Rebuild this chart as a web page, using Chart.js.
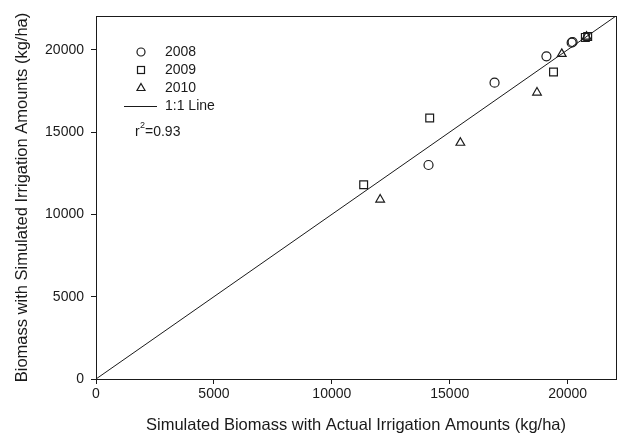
<!DOCTYPE html>
<html>
<head>
<meta charset="utf-8">
<script src="https://cdn.jsdelivr.net/npm/chart.js@4.4.1/dist/chart.umd.min.js"></script>
<style>
  html, body { margin: 0; padding: 0; background: #fff; }
  #chart { display: block; }
</style>
</head>
<body>
<canvas id="chart" width="619" height="439"></canvas>
<script>
// Datos (kg/ha)
const x2008 = [14100, 16900, 19100, 20170, 20210];
const y2008 = [13000, 18000, 19600, 20430, 20470];

const x2009 = [11350, 14150, 19400, 20750, 20850];
const y2009 = [11800, 15850, 18650, 20750, 20800];

const x2010 = [12050, 15450, 18700, 19750, 20800];
const y2010 = [10900, 14350, 17400, 19750, 20800];

const lineaX = [0, 22050];
const lineaY = [0, 22050];

const xTicks = [0, 5000, 10000, 15000, 20000];
const yTicks = [0, 5000, 10000, 15000, 20000];
const ejeMax = 22050;

const r2Texto = "0.93";

// Función para armar pares {x, y}
function pares(xs, ys) {
    return xs.map((v, i) => ({ x: v, y: ys[i] }));
}

const negro = "#1a1a1a";
const fuente = "'Liberation Sans', Arial, sans-serif";

// Plugin: marco del área, leyenda interna y r²
const marcoYLeyenda = {
    id: "marcoYLeyenda",
    afterDraw(chart) {
        const ctx = chart.ctx;
        const a = chart.chartArea;
        ctx.save();
        ctx.strokeStyle = negro;
        ctx.lineWidth = 1;
        ctx.strokeRect(Math.round(a.left) + 0.5, Math.round(a.top) + 0.5,
            Math.round(a.right - a.left), Math.round(a.bottom - a.top));

        // Leyenda
        const mx = 141, tx = 165;
        ctx.font = "14px " + fuente;
        ctx.fillStyle = negro;
        ctx.textBaseline = "middle";
        ctx.lineWidth = 1.2;

        ctx.beginPath();
        ctx.arc(mx, 52, 4, 0, Math.PI * 2);
        ctx.stroke();
        ctx.fillText("2008", tx, 52);

        ctx.strokeRect(mx - 3.5, 70 - 3.5, 7, 7);
        ctx.fillText("2009", tx, 70);

        ctx.beginPath();
        ctx.moveTo(mx, 83.5);
        ctx.lineTo(mx + 4, 90.5);
        ctx.lineTo(mx - 4, 90.5);
        ctx.closePath();
        ctx.stroke();
        ctx.fillText("2010", tx, 88);

        ctx.lineWidth = 1;
        ctx.beginPath();
        ctx.moveTo(124, 106.5);
        ctx.lineTo(157, 106.5);
        ctx.stroke();
        ctx.fillText("1:1 Line", tx, 106);

        // r²
        ctx.textBaseline = "alphabetic";
        ctx.fillText("r", 135, 136);
        ctx.font = "9px " + fuente;
        ctx.fillText("2", 140, 128);
        ctx.font = "14px " + fuente;
        ctx.fillText("=" + r2Texto, 145, 136);
        ctx.restore();
    }
};

const estiloPuntos = {
    showLine: false,
    backgroundColor: "rgba(255,255,255,0)",
    borderColor: negro,
    borderWidth: 1.2,
    pointBorderWidth: 1.2
};

new Chart(document.getElementById("chart").getContext("2d"), {
    type: "scatter",
    data: {
        datasets: [
            {
                label: "1:1 Line",
                type: "line",
                data: pares(lineaX, lineaY),
                borderColor: negro,
                borderWidth: 1,
                pointRadius: 0,
                fill: false,
                tension: 0
            },
            Object.assign({ label: "2008", data: pares(x2008, y2008), pointStyle: "circle", pointRadius: 4.5 }, estiloPuntos),
            Object.assign({ label: "2009", data: pares(x2009, y2009), pointStyle: "rect", pointRadius: 5.5 }, estiloPuntos),
            Object.assign({ label: "2010", data: pares(x2010, y2010), pointStyle: "triangle", pointRadius: 5 }, estiloPuntos)
        ]
    },
    options: {
        responsive: false,
        animation: false,
        layout: { autoPadding: false, padding: { top: 16, right: 3, left: 0, bottom: 0 } },
        plugins: {
            legend: { display: false },
            tooltip: { enabled: false }
        },
        scales: {
            x: {
                type: "linear",
                min: 0,
                max: ejeMax,
                afterBuildTicks: s => { s.ticks = xTicks.map(v => ({ value: v })); },
                afterFit: s => { s.height = 60; s.paddingLeft = 0; s.paddingRight = 0; },
                grid: { display: true, drawOnChartArea: false, tickLength: 5, color: negro },
                border: { display: false },
                ticks: {
                    color: negro,
                    padding: 2,
                    maxRotation: 0,
                    font: { family: fuente, size: 14 },
                    callback: v => String(v)
                },
                title: {
                    display: true,
                    text: "Simulated Biomass with Actual Irrigation Amounts (kg/ha)",
                    color: negro,
                    font: { family: fuente, size: 16.5 },
                    padding: { top: 0, bottom: 4 }
                }
            },
            y: {
                type: "linear",
                min: 0,
                max: ejeMax,
                afterBuildTicks: s => { s.ticks = yTicks.map(v => ({ value: v })); },
                afterFit: s => { s.width = 96; s.paddingTop = 0; s.paddingBottom = 0; },
                grid: { display: true, drawOnChartArea: false, tickLength: 5, color: negro },
                border: { display: false },
                ticks: {
                    color: negro,
                    padding: 7,
                    font: { family: fuente, size: 14 },
                    callback: v => String(v)
                },
                title: {
                    display: true,
                    text: "Biomass with Simulated Irrigation Amounts (kg/ha)",
                    color: negro,
                    font: { family: fuente, size: 16.5 },
                    padding: { top: 13, bottom: 0 }
                }
            }
        }
    },
    plugins: [marcoYLeyenda]
});
</script>
</body>
</html>
